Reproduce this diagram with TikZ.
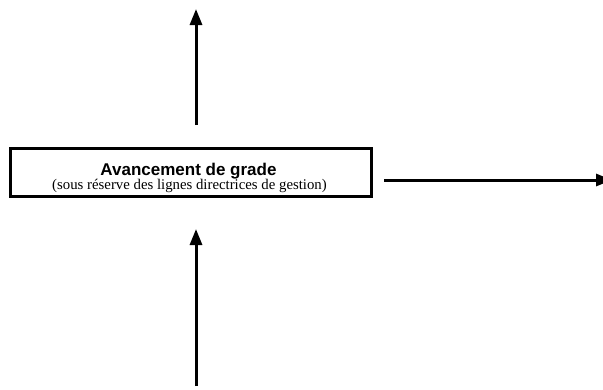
\documentclass[tikz,border=0pt]{standalone}
\usepackage{fontspec}
\setmainfont{Liberation Serif}
\newfontfamily\headfont{Liberation Sans}
\usetikzlibrary{arrows.meta}
\begin{document}
\begin{tikzpicture}[x=1pt,y=-1pt,
  arr/.style={line width=3pt,-{Triangle[length=16pt,width=12pt]}},
  mainbox/.style={draw,line width=2.7pt,minimum width=361pt,minimum height=48pt,inner sep=0pt},
  txt/.style={anchor=base,inner sep=0pt}]
\useasboundingbox (0,0) rectangle (603,389);
\node[mainbox] (box) at (191,172.5) {};
\node[txt,font=\headfont\bfseries\fontsize{17}{20}\selectfont] (l1) at (188.5,175) {Avancement de grade};
\node[txt,font=\fontsize{14.8}{17}\selectfont] (l2) at (189.5,189.5) {(sous réserve des lignes directrices de gestion)};
\coordinate (ta) at (196,125);
\coordinate (tb) at (196,9);
\coordinate (ra) at (384,180);
\coordinate (rb) at (612,180);
\coordinate (ba) at (196,386);
\coordinate (bb) at (196,229);
\draw[arr] (ta) -- (tb);
\draw[arr] (ra) -- (rb);
\draw[arr] (ba) -- (bb);
\end{tikzpicture}
\end{document}
